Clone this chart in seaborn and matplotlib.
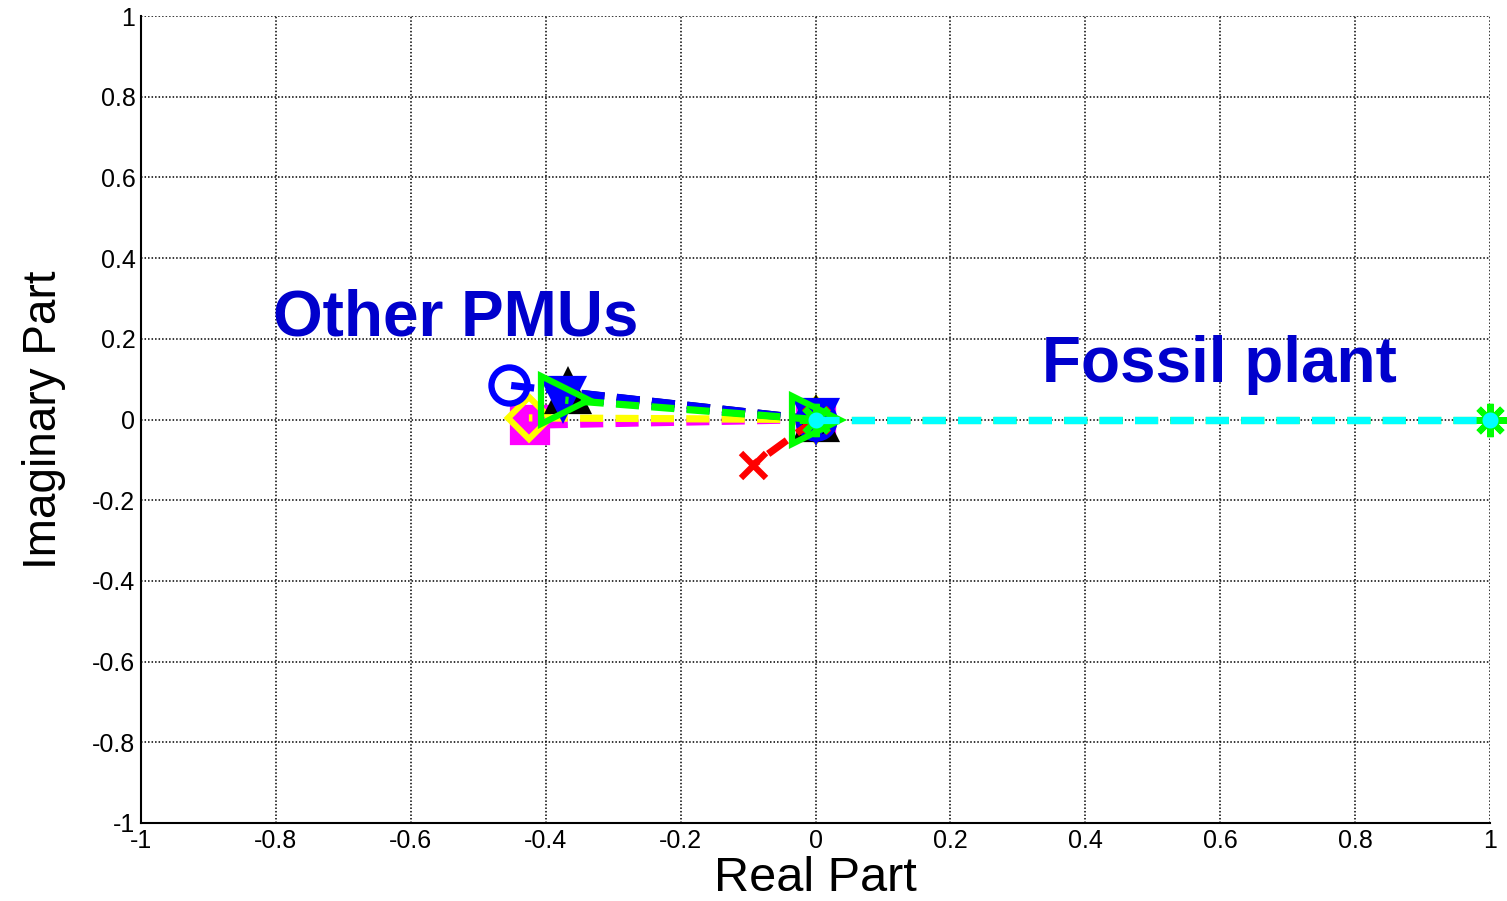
import matplotlib
matplotlib.use("Agg")
import matplotlib.pyplot as plt
import seaborn as sns
import pandas as pd

# mode shape end points (each vector drawn from the origin)
series_names = ["magenta", "yellow", "black", "blue_v", "blue_o", "red", "green_star", "green_tri", "cyan"]
real_part = [-0.423, -0.425, -0.367, -0.374, -0.455, -0.093, 1.0, -0.371, 1.0]
imag_part = [-0.014, 0.004, 0.068, 0.053, 0.085, -0.113, 0.0, 0.048, 0.0]
line_colors = ["#ff00ff", "#ffff00", "#000000", "#0000ff", "#0000ff", "#ff0000", "#00ff00", "#00ff00", "#00ffff"]
markers = ["s", "D", "^", "v", "o", "x", (8, 2, 0), ">", "o"]
marker_sizes = [24, 21, 27, 27, 26, 18, 24, 34, 7]
marker_filled = [True, False, True, True, False, True, True, False, True]

tick_vals = [-1, -0.8, -0.6, -0.4, -0.2, 0, 0.2, 0.4, 0.6, 0.8, 1]
tick_labels = ["-1", "-0.8", "-0.6", "-0.4", "-0.2", "0", "0.2", "0.4", "0.6", "0.8", "1"]

sns.set_style("white")
plt.rcParams["font.family"] = ["Liberation Sans", "DejaVu Sans"]

fig = plt.figure(figsize=(15.07, 9.01), dpi=100)
ax = fig.add_axes([0.0936, 0.0866, 0.8951, 0.8956])

for i, name in enumerate(series_names):
    df = pd.DataFrame({"re": [0.0, real_part[i]], "im": [0.0, imag_part[i]]})
    c = line_colors[i]
    face = c if marker_filled[i] else "none"
    sns.lineplot(data=df, x="re", y="im", sort=False, ax=ax, color=c,
                 linewidth=5.2, linestyle=(0, (3.2, 1.7)),
                 marker=markers[i], markersize=marker_sizes[i],
                 markerfacecolor=face, markeredgecolor=c,
                 markeredgewidth=4.5, zorder=3 + i, clip_on=False)

ax.set_xlim(-1, 1)
ax.set_ylim(-1, 1)
ax.set_xticks(tick_vals)
ax.set_xticklabels(tick_labels)
ax.set_yticks(tick_vals)
ax.set_yticklabels(tick_labels)
ax.tick_params(direction="in", length=9, width=1.2, labelsize=18, colors="black", pad=4)
ax.grid(True, color="black", linestyle=(0, (1, 1.3)), linewidth=1.1)
ax.set_axisbelow(True)
for side in ["top", "right"]:
    ax.spines[side].set_visible(False)
for side in ["left", "bottom"]:
    ax.spines[side].set_color("black")
    ax.spines[side].set_linewidth(1.5)

ax.set_xlabel("Real Part", fontsize=35, color="black")
ax.set_ylabel("Imaginary Part", fontsize=33, color="black")
ax.xaxis.set_label_coords(0.5, -0.041)
ax.yaxis.set_label_coords(-0.056, 0.5)

ax.text(-0.804, 0.209, "Other PMUs", color="#0000cc", fontsize=46, fontweight="bold")
ax.text(0.336, 0.093, "Fossil plant", color="#0000cc", fontsize=46, fontweight="bold")

fig.savefig("out.png", dpi=100)
